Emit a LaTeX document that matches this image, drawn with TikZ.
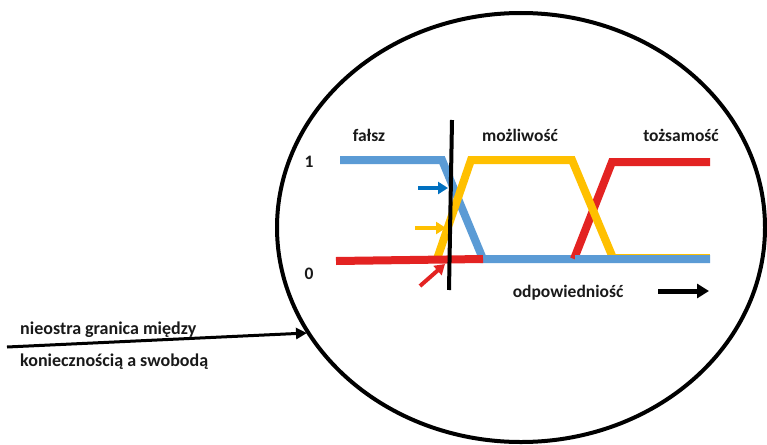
\documentclass[tikz,border=0pt]{standalone}
\usepackage{fontspec}
\setmainfont{Carlito}
\usetikzlibrary{arrows.meta}
\definecolor{lineblue}{HTML}{5B9BD5}
\definecolor{lineyellow}{HTML}{FFC000}
\definecolor{linered}{HTML}{E32322}
\definecolor{arrowblue}{HTML}{0070C0}
\begin{document}
\begin{tikzpicture}[x=1pt,y=-1pt,
  lbl/.style={font=\fontsize{17.5}{19}\selectfont\bfseries, text=black!90, inner sep=0pt},
  curve/.style={line width=8pt, line join=miter},
  pointer/.style={line width=4pt, -{Triangle[length=10pt,width=12pt]}}]
\useasboundingbox (0,0) rectangle (767,444);

% the enclosing ellipse
\draw[line width=4pt] (521,227.5) ellipse [x radius=244, y radius=214.5];

% membership curves
\draw[lineyellow, line width=3pt] (612,255) -- (710,255);
\draw[curve, lineblue] (340,160) -- (442,160) -- (483,259) -- (710,259);
\draw[curve, linered] (574,259) -- (612,162) -- (710,162);
\draw[curve, lineyellow] (437,259) -- (471,160) -- (572,160) -- (613,258);
\draw[curve, lineblue] (575,259) -- (710,259);
\draw[curve, linered] (336,261) -- (483,259);

% boundary line
\draw[line width=4pt] (452,120) -- (449,290);

% small pointers at the crossing
\coordinate (pb0) at (418,188); \coordinate (pb1) at (448,188);
\coordinate (py0) at (415,228); \coordinate (py1) at (446,228);
\coordinate (pr0) at (420,286); \coordinate (pr1) at (445,264);
\draw[pointer, arrowblue] (pb0) -- (pb1);
\draw[pointer, lineyellow] (py0) -- (py1);
\draw[pointer, linered] (pr0) -- (pr1);

% labels
\node[lbl] (falsz) at (369,135) {fałsz};
\node[lbl] (mozl) at (520,135) {możliwość};
\node[lbl] (tozs) at (681,135) {tożsamość};
\node[lbl] (one) at (309,162) {1};
\node[lbl] (zero) at (309,274) {0};
\node[lbl] (odp) at (568,293) {odpowiedniość};

% axis direction arrow
\coordinate (ax0) at (658,291); \coordinate (ax1) at (709,291);
\draw[line width=5pt, -{Triangle[length=12pt,width=14pt]}] (ax0) -- (ax1);

% caption with its pointer
\node[lbl, anchor=west, font=\fontsize{18}{20}\selectfont\bfseries] (cap1) at (20,330) {nieostra granica między};
\node[lbl, anchor=west, font=\fontsize{18}{20}\selectfont\bfseries] (cap2) at (20,362) {koniecznością a swobodą};
\coordinate (ptr0) at (7,347); \coordinate (ptr1) at (307,333);
\draw[line width=3pt, -{Triangle[length=11pt,width=11pt]}] (ptr0) -- (ptr1);
\end{tikzpicture}
\end{document}
